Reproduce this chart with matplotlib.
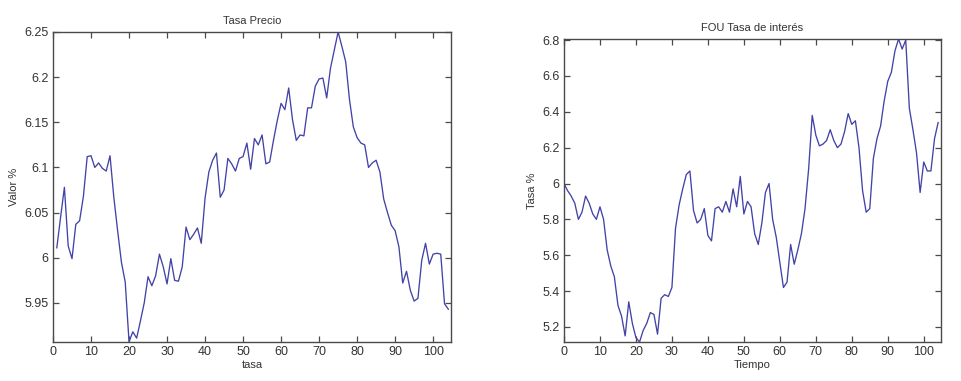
import matplotlib
matplotlib.use("Agg")
import matplotlib.pyplot as plt
import numpy as np

plt.rcParams['font.family'] = ['Liberation Sans', 'DejaVu Sans']

# ---- Left chart: Tasa Precio (x = 1..104)
precio_x = list(range(1, 105))
precio_y = [
    6.011, 6.045, 6.078, 6.013, 5.999, 6.037, 6.041, 6.068, 6.112, 6.113,
    6.100, 6.105, 6.099, 6.096, 6.113, 6.067, 6.030, 5.995, 5.973, 5.907,
    5.918, 5.911, 5.930, 5.950, 5.979, 5.969, 5.980, 6.004, 5.990, 5.971,
    5.999, 5.975, 5.974, 5.990, 6.034, 6.020, 6.026, 6.033, 6.016, 6.066,
    6.095, 6.108, 6.116, 6.067, 6.075, 6.110, 6.104, 6.096, 6.110, 6.112,
    6.127, 6.098, 6.132, 6.125, 6.136, 6.104, 6.106, 6.130, 6.152, 6.171,
    6.164, 6.188, 6.153, 6.130, 6.136, 6.135, 6.166, 6.166, 6.190, 6.198,
    6.199, 6.177, 6.210, 6.230, 6.250, 6.234, 6.217, 6.175, 6.145, 6.133,
    6.127, 6.125, 6.100, 6.105, 6.108, 6.095, 6.065, 6.050, 6.036, 6.030,
    6.012, 5.972, 5.985, 5.964, 5.952, 5.955, 5.997, 6.016, 5.993, 6.004,
    6.005, 6.004, 5.949, 5.943,
]
precio_xticks = list(range(0, 101, 10))
precio_yticks = [5.95, 6.0, 6.05, 6.1, 6.15, 6.2, 6.25]
precio_yticklabels = ["5.95", "6", "6.05", "6.1", "6.15", "6.2", "6.25"]

# ---- Right chart: FOU Tasa de interés (x = 0..104)
fou_x = list(range(0, 105))
fou_y = [
    6.00, 5.96, 5.93, 5.89, 5.80, 5.84, 5.93, 5.89, 5.83, 5.80,
    5.87, 5.80, 5.63, 5.54, 5.48, 5.32, 5.26, 5.15, 5.34, 5.22,
    5.14, 5.116, 5.18, 5.22, 5.28, 5.27, 5.16, 5.36, 5.38, 5.37,
    5.42, 5.75, 5.88, 5.97, 6.05, 6.07, 5.85, 5.78, 5.80, 5.86,
    5.71, 5.68, 5.86, 5.87, 5.84, 5.90, 5.84, 5.97, 5.87, 6.04,
    5.83, 5.90, 5.87, 5.72, 5.66, 5.78, 5.95, 6.00, 5.80, 5.70,
    5.56, 5.42, 5.45, 5.66, 5.55, 5.63, 5.72, 5.86, 6.08, 6.38,
    6.27, 6.21, 6.22, 6.24, 6.30, 6.24, 6.20, 6.22, 6.29, 6.39,
    6.33, 6.35, 6.20, 5.96, 5.84, 5.86, 6.14, 6.25, 6.32, 6.46,
    6.57, 6.62, 6.74, 6.806, 6.75, 6.80, 6.42, 6.30, 6.17, 5.95,
    6.12, 6.07, 6.07, 6.25, 6.34,
]
fou_xticks = list(range(0, 101, 10))
fou_yticks = [5.2, 5.4, 5.6, 5.8, 6.0, 6.2, 6.4, 6.6, 6.8]
fou_yticklabels = ["5.2", "5.4", "5.6", "5.8", "6", "6.2", "6.4", "6.6", "6.8"]

W, H = 961, 381
fig = plt.figure(figsize=(W / 100, H / 100), dpi=100)
fig.patch.set_facecolor('white')

line_color = '#4242a8'
spine_color = '#4a4a4a'
text_color = '#333333'


def style(ax):
    for s in ax.spines.values():
        s.set_color(spine_color)
        s.set_linewidth(1.0)
    ax.tick_params(direction='in', length=4, width=0.9, color=spine_color,
                   top=True, right=True, labelsize=9, labelcolor=text_color, pad=3)


# Left axes
ax1 = fig.add_axes([53 / W, (H - 342) / H, (451 - 53) / W, (342 - 32) / H])
ax1.plot(precio_x, precio_y, color=line_color, lw=0.95)
ax1.set_xlim(0, 104.7)
ax1.set_ylim(5.9067, 6.25)
ax1.set_xticks(precio_xticks)
ax1.set_yticks(precio_yticks)
ax1.set_yticklabels(precio_yticklabels)
ax1.set_title("Tasa Precio", fontsize=8, color=text_color, pad=6)
ax1.set_xlabel("tasa", fontsize=8, color=text_color, labelpad=1)
ax1.set_ylabel("Valor %", fontsize=8, color=text_color, labelpad=4)
style(ax1)

# Right axes
ax2 = fig.add_axes([564 / W, (H - 342) / H, (941 - 564) / W, (342 - 39) / H])
ax2.plot(fou_x, fou_y, color=line_color, lw=0.95)
ax2.set_xlim(0, 104.8)
ax2.set_ylim(5.116, 6.806)
ax2.set_xticks(fou_xticks)
ax2.set_yticks(fou_yticks)
ax2.set_yticklabels(fou_yticklabels)
ax2.set_title("FOU Tasa de interés", fontsize=8, color=text_color, pad=6)
ax2.set_xlabel("Tiempo", fontsize=8, color=text_color, labelpad=1)
ax2.set_ylabel("Tasa %", fontsize=8, color=text_color, labelpad=4)
style(ax2)

fig.savefig("out.png", dpi=100, facecolor='white')
